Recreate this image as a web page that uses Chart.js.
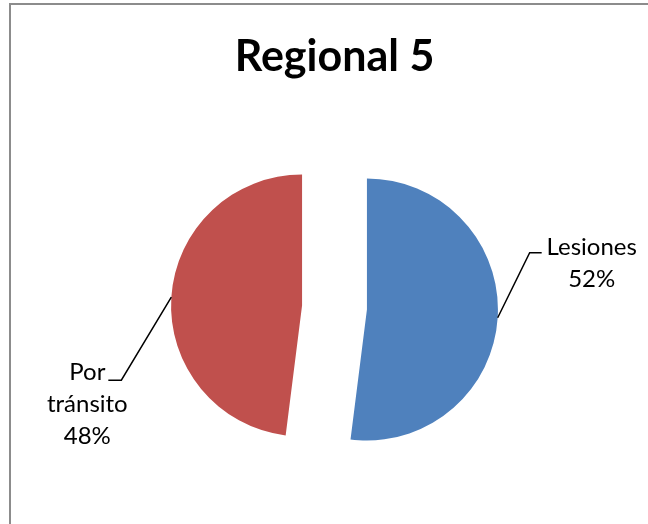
<!DOCTYPE html>
<html>
<head>
<meta charset="utf-8">
<title>Regional 5</title>
<script src="https://cdn.jsdelivr.net/npm/chart.js@4"></script>
<style>
    html, body { margin: 0; padding: 0; background: #fff; overflow: hidden; }
    #wrap { position: relative; width: 648px; height: 524px; }
    #frame {
        position: absolute; left: 9px; top: 3px; width: 800px; height: 700px;
        border-left: 2px solid #8c8c8c; border-top: 2px solid #8c8c8c;
        pointer-events: none;
    }
    #chart { position: absolute; left: 0; top: 0; }
</style>
</head>
<body>
<div id="wrap">
    <div id="frame"></div>
    <canvas id="chart" width="648" height="524"></canvas>
</div>
<script>
// --------------------------------------------------
//  DATA
// --------------------------------------------------
const chartTitle = 'Regional 5';
const categories = ['Lesiones', 'Por tránsito'];
const values = [52, 48];
const labelLines = [['Lesiones', '52%'], ['Por', 'tránsito', '48%']];
const sliceColors = ['#4F81BD', '#C0504D'];

const explode = 32.5; // px each slice is pulled out of the centre

// --------------------------------------------------
//  EXPLODED SLICES
//  (Chart.js "offset" also grows the radius, so the arcs are
//   drawn here shifted along their middle angle instead)
// --------------------------------------------------
const explodedPie = {
    id: 'explodedPie',
    beforeDatasetDraw(chart, args) {
        const ctx = chart.ctx;
        args.meta.data.forEach(arc => {
            const p = arc.getProps(['startAngle', 'endAngle']);
            const mid = (p.startAngle + p.endAngle) / 2;
            ctx.save();
            ctx.translate(Math.cos(mid) * explode, Math.sin(mid) * explode);
            arc.draw(ctx);
            ctx.restore();
        });
        return false;
    }
};

// --------------------------------------------------
//  LABELS WITH LEADER LINES (Excel style)
// --------------------------------------------------
// elbow = offset of the bend from the point on the slice edge,
// tail  = length of the horizontal piece, text = where the text block sits
const labelLayout = [
    { elbow: [32, -65], tail: 12, textDx: 50, firstDy: 2, lineGap: 32 },
    { elbow: [-50, 83], tail: -13, textDx: -21, firstDy: 0, lineGap: 32 }
];

const leaderLabels = {
    id: 'leaderLabels',
    afterDatasetsDraw(chart) {
        const ctx = chart.ctx;
        const arcs = chart.getDatasetMeta(0).data;

        arcs.forEach((arc, i) => {
            const p = arc.getProps(['x', 'y', 'startAngle', 'endAngle', 'outerRadius']);
            const mid = (p.startAngle + p.endAngle) / 2;
            const r = p.outerRadius + explode;
            const ax = p.x + Math.cos(mid) * r;
            const ay = p.y + Math.sin(mid) * r;
            const lay = labelLayout[i];
            const bx = ax + lay.elbow[0];
            const by = ay + lay.elbow[1];
            const ex = bx + lay.tail;

            ctx.save();
            ctx.strokeStyle = '#000';
            ctx.lineWidth = 1.5;
            ctx.beginPath();
            ctx.moveTo(ax, ay);
            ctx.lineTo(bx, by);
            ctx.lineTo(ex, by);
            ctx.stroke();

            ctx.fillStyle = '#000';
            ctx.font = '24px Lato, "Open Sans", sans-serif';
            ctx.textAlign = 'center';
            ctx.textBaseline = 'alphabetic';
            labelLines[i].forEach((line, k) => {
                ctx.fillText(line, ex + lay.textDx, by + lay.firstDy + k * lay.lineGap);
            });
            ctx.restore();
        });
    }
};

// --------------------------------------------------
//  CHART
// --------------------------------------------------
const ctx = document.getElementById('chart').getContext('2d');

const pieChart = new Chart(ctx, {
    type: 'pie',
    data: {
        labels: categories,
        datasets: [{
            data: values,
            backgroundColor: sliceColors,
            borderWidth: 0,
            hoverOffset: 0
        }]
    },
    options: {
        responsive: false,
        animation: false,
        events: [],
        radius: 131,
        layout: { padding: { left: 21, right: 0, top: 0, bottom: 0 } },
        plugins: {
            legend: { display: false },
            tooltip: { enabled: false },
            title: {
                display: true,
                text: chartTitle,
                color: '#000',
                font: { family: 'Lato, "Open Sans", sans-serif', size: 43, weight: 'bold', lineHeight: 1.2 },
                padding: { top: 31, bottom: 8.4 }
            }
        }
    },
    plugins: [explodedPie, leaderLabels]
});
</script>
</body>
</html>
